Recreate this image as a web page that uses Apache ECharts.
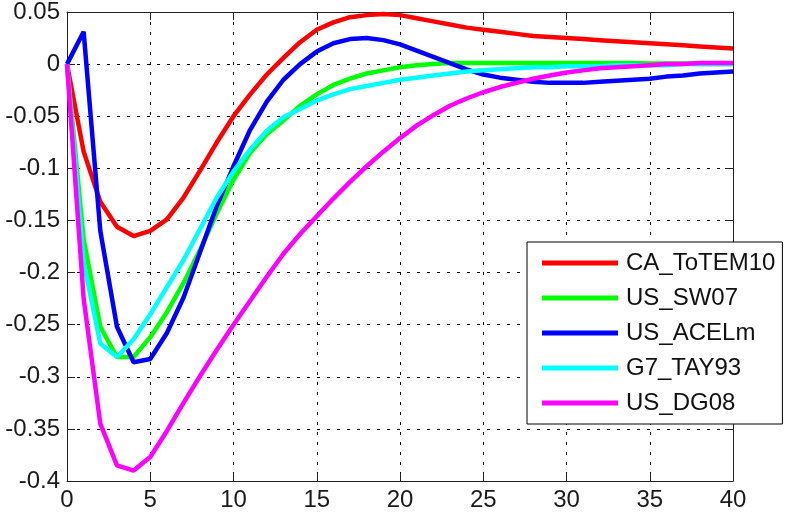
<!DOCTYPE html>
<html><head><meta charset="utf-8">
<script src="https://cdn.jsdelivr.net/npm/echarts@6/dist/echarts.min.js"></script>
<style>html,body{margin:0;padding:0;background:#fff}#c{width:788px;height:519px}</style>
</head><body><div id="c"></div>
<script>
const periods = [0,1,2,3,4,5,6,7,8,9,10,11,12,13,14,15,16,17,18,19,20,21,22,23,24,25,26,27,28,29,30,31,32,33,34,35,36,37,38,39,40];
const seriesNames = ['CA_ToTEM10','US_SW07','US_ACELm','G7_TAY93','US_DG08'];
const seriesColors = ['#ff0000','#00ff00','#0000ff','#00ffff','#ff00ff'];
const CA_ToTEM10 = [0,-0.084,-0.132,-0.156,-0.165,-0.160,-0.149,-0.128,-0.102,-0.075,-0.050,-0.029,-0.010,0.006,0.021,0.033,0.040,0.045,0.047,0.048,0.047,0.044,0.041,0.038,0.035,0.033,0.031,0.029,0.027,0.026,0.025,0.024,0.023,0.022,0.021,0.020,0.019,0.018,0.017,0.016,0.015];
const US_SW07 = [0,-0.168,-0.252,-0.281,-0.281,-0.262,-0.238,-0.210,-0.178,-0.143,-0.111,-0.085,-0.067,-0.054,-0.040,-0.029,-0.020,-0.014,-0.009,-0.006,-0.003,-0.001,0.000,0.001,0.001,0.001,0.001,0.001,0.001,0.001,0.001,0.001,0.001,0.001,0.001,0.0005,0.0005,0.0005,0,0,0];
const US_ACELm = [0,0.031,-0.160,-0.252,-0.286,-0.283,-0.258,-0.224,-0.180,-0.136,-0.098,-0.063,-0.036,-0.015,0.000,0.012,0.020,0.024,0.025,0.023,0.019,0.013,0.007,0.001,-0.005,-0.010,-0.013,-0.015,-0.017,-0.018,-0.018,-0.018,-0.017,-0.016,-0.015,-0.014,-0.012,-0.011,-0.009,-0.008,-0.007];
const G7_TAY93 = [0,-0.190,-0.268,-0.281,-0.264,-0.240,-0.214,-0.188,-0.158,-0.128,-0.103,-0.082,-0.064,-0.051,-0.043,-0.035,-0.029,-0.024,-0.021,-0.018,-0.015,-0.013,-0.011,-0.009,-0.007,-0.006,-0.005,-0.004,-0.003,-0.003,-0.002,-0.002,-0.002,-0.001,-0.001,-0.001,-0.001,0,0,0,0];
const US_DG08 = [0,-0.225,-0.345,-0.385,-0.390,-0.377,-0.352,-0.325,-0.299,-0.274,-0.250,-0.227,-0.204,-0.182,-0.163,-0.146,-0.129,-0.113,-0.098,-0.084,-0.071,-0.059,-0.049,-0.040,-0.033,-0.027,-0.022,-0.018,-0.014,-0.011,-0.008,-0.006,-0.004,-0.003,-0.002,-0.001,0,0,0.001,0.001,0.001];
const allValues = [CA_ToTEM10, US_SW07, US_ACELm, G7_TAY93, US_DG08];

const font = 'Liberation Sans, Arial, sans-serif';
const axisLine = {show:true, onZero:false, lineStyle:{color:'#222', width:1}};
const tick = {show:true, inside:true, length:8, lineStyle:{color:'#222', width:1}};
const grid = {show:true, lineStyle:{color:'#000', width:1, type:[3,7]}};
const fmt = v => String(parseFloat(v.toFixed(2)));

const chart = echarts.init(document.getElementById('c'), null, {renderer:'canvas'});
chart.setOption({
  animation:false,
  backgroundColor:'#fff',
  grid:{left:67, top:10, right:55, bottom:38, containLabel:false},
  xAxis:[
    {type:'value', min:0, max:40, interval:5, position:'bottom', axisLine, axisTick:tick, splitLine:grid,
     axisLabel:{fontSize:24, fontFamily:font, color:'#1a1a1a', margin:7}},
    {type:'value', min:0, max:40, interval:5, position:'top', axisLine, axisTick:tick, splitLine:{show:false}, axisLabel:{show:false}}
  ],
  yAxis:[
    {type:'value', min:-0.4, max:0.05, interval:0.05, position:'left', axisLine, axisTick:tick, splitLine:grid,
     axisLabel:{fontSize:24, fontFamily:font, color:'#1a1a1a', margin:7, formatter:fmt}},
    {type:'value', min:-0.4, max:0.05, interval:0.05, position:'right', axisLine, axisTick:tick, splitLine:{show:false}, axisLabel:{show:false}}
  ],
  legend:{
    data:seriesNames, orient:'vertical', left:527, top:242, padding:[9,7,9,15],
    borderColor:'#000', borderWidth:1, backgroundColor:'#fff', borderRadius:0,
    icon:'rect', itemWidth:76, itemHeight:5, itemGap:11, selectedMode:false,
    textStyle:{fontSize:24, lineHeight:24, fontFamily:font, color:'#111', padding:[0,0,0,3]}
  },
  series: seriesNames.map((name, i) => ({
    name, type:'line', showSymbol:false, symbol:'none', smooth:false,
    data: periods.map((p, j) => [p, allValues[i][j]]),
    lineStyle:{color:seriesColors[i], width:4.5},
    itemStyle:{color:seriesColors[i]}
  }))
});
</script></body></html>
